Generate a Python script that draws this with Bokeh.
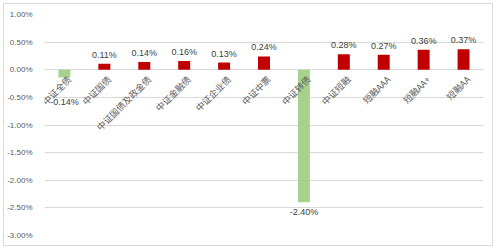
import numpy as np
from bokeh.plotting import figure
from bokeh.models import ColumnDataSource, Range1d, FixedTicker, PrintfTickFormatter
from bokeh.core.properties import value
from bokeh.embed import file_html
from bokeh.resources import INLINE

categories = ["中证全债", "中证国债", "中证国债及政金债", "中证金融债", "中证企业债", "中证中票",
              "中证转债", "中证短融", "短融AAA", "短融AA+", "短融AA"]
returns = [-0.14, 0.11, 0.14, 0.16, 0.13, 0.24, -2.40, 0.28, 0.27, 0.36, 0.37]
y_ticks = [-3.0, -2.5, -2.0, -1.5, -1.0, -0.5, 0.0, 0.5, 1.0]

RED = "#C00000"
GREEN = "#A9D18E"
FONT = "Noto Sans CJK SC"

vals = np.array(returns)
xs = np.arange(len(categories))
pos = vals >= 0
src = ColumnDataSource(dict(
    x=xs, top=vals,
    color=[RED if p else GREEN for p in pos],
    label=["%.2f%%" % v for v in vals],
    ly=np.where(pos, vals, np.minimum(vals, -0.4)),
    base=["bottom" if p else "top" for p in pos],
    dy=np.where(pos, -4, 5),
    cat=categories,
    zero=np.zeros(len(categories)),
))

p = figure(width=490, height=243, output_backend="svg", toolbar_location=None,
           x_range=Range1d(-0.5, len(categories) - 0.5),
           y_range=Range1d(min(y_ticks), max(y_ticks)),
           min_border_left=36, min_border_right=11, min_border_top=10, min_border_bottom=12,
           styles={"margin-left": "3px", "margin-top": "3px", "border": "1px solid #d9d9d9"})
p.outline_line_color = None
p.background_fill_color = "white"
p.xaxis.visible = False
p.xgrid.visible = False
p.ygrid.grid_line_color = "#d9d9d9"
p.ygrid.grid_line_width = 1
p.yaxis.ticker = FixedTicker(ticks=y_ticks)
p.yaxis.formatter = PrintfTickFormatter(format="%.2f%%")
p.yaxis.axis_line_color = None
p.yaxis.major_tick_line_color = None
p.yaxis.minor_tick_line_color = None
p.yaxis.major_label_text_font = "Liberation Sans"
p.yaxis.major_label_text_font_size = "8px"
p.yaxis.major_label_text_color = "#595959"
p.yaxis.major_label_standoff = 6

p.vbar(x="x", top="top", bottom=0, width=0.3, fill_color="color", line_color=None, source=src)

p.text(x="x", y="ly", text="label", source=src, text_align="center", text_baseline="base",
       y_offset="dy", text_font=value("Liberation Sans"), text_font_size="9px",
       text_color="#404040")

p.text(x="x", y="zero", text="cat", source=src, angle=np.pi / 4, text_align="right",
       text_baseline="middle", x_offset=5, y_offset=8, text_font=value(FONT),
       text_font_size="9px", text_color="#595959")

open("out.html", "w").write(file_html(p, INLINE))
